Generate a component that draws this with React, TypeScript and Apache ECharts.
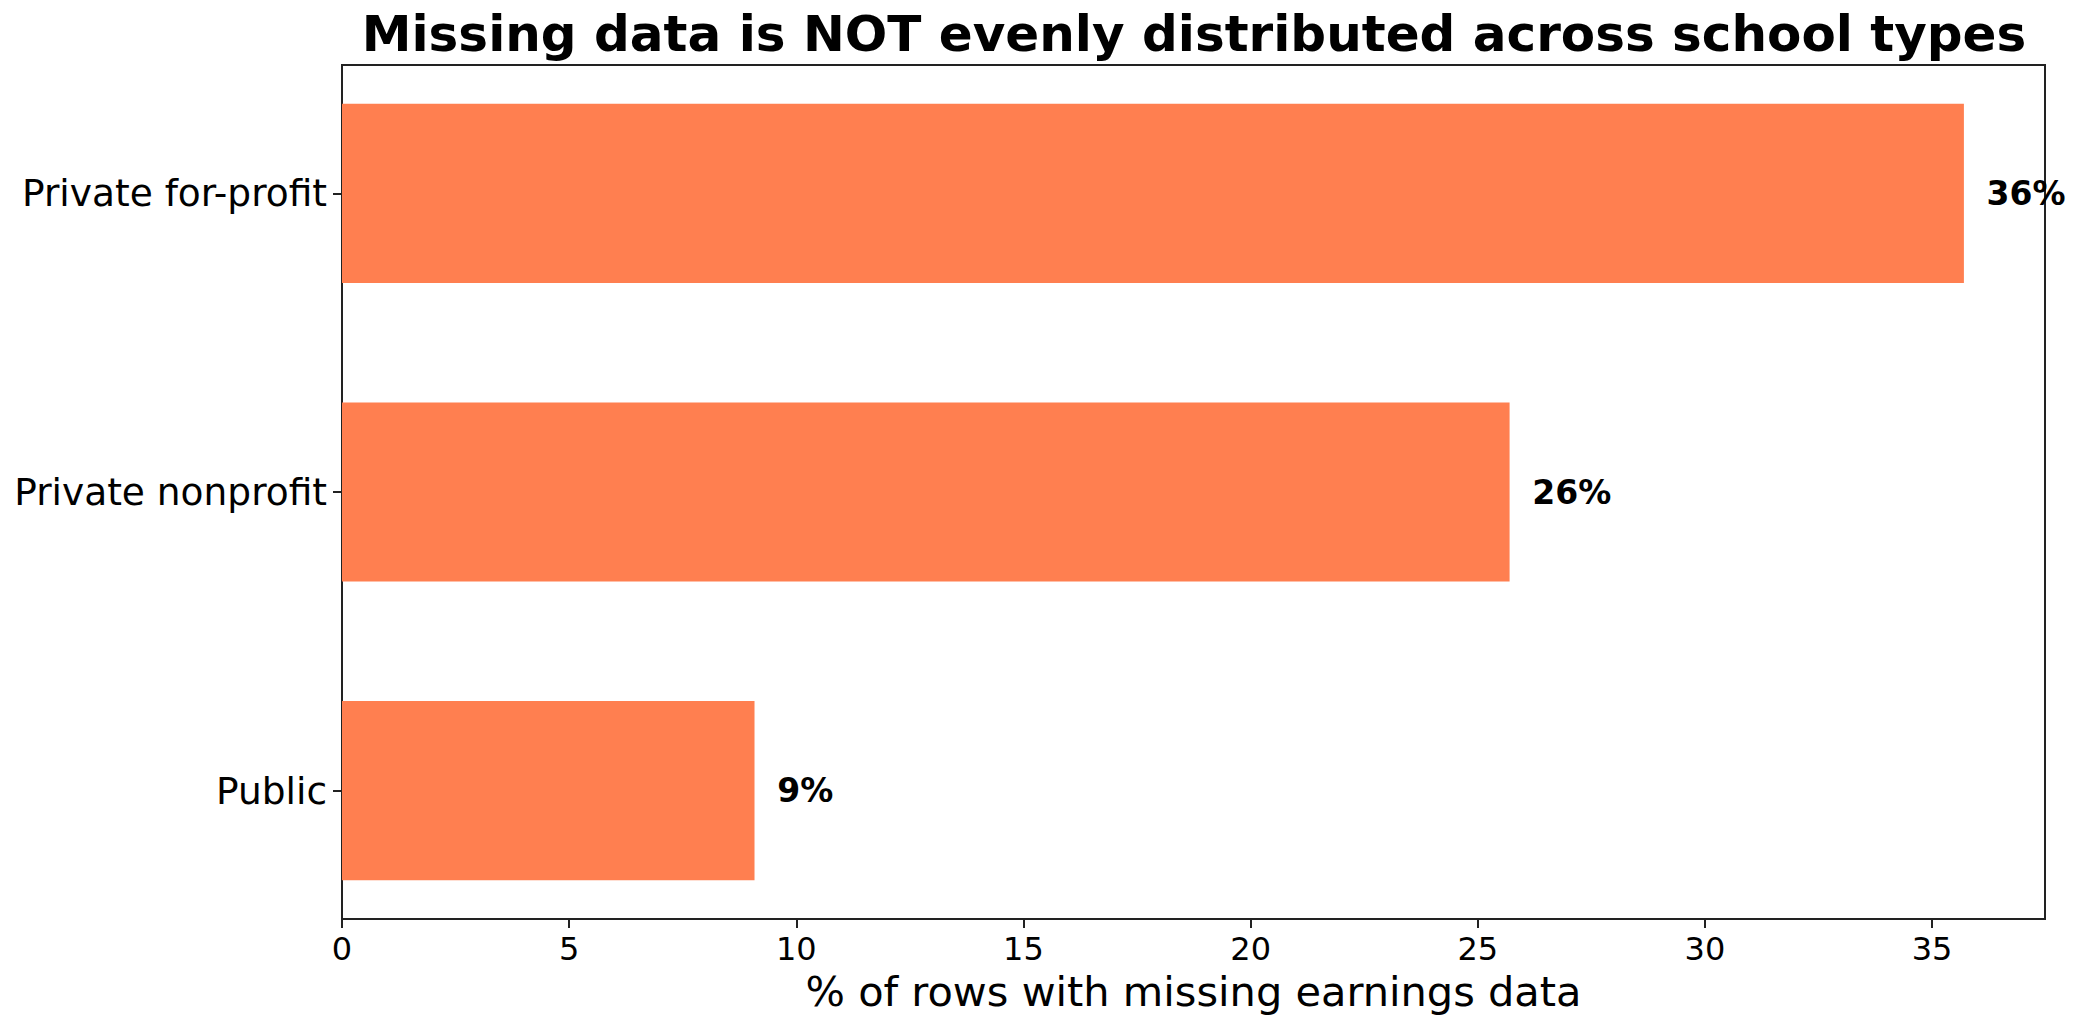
import React, { useEffect, useRef } from "react";
import * as echarts from "echarts";

const categories = ["Public", "Private nonprofit", "Private for-profit"];
const values = [9.08, 25.7, 35.7];
const labels = ["9%", "26%", "36%"];
const xTicks = [0, 5, 10, 15, 20, 25, 30, 35];
const titleText = "Missing data is NOT evenly distributed across school types";
const xAxisTitle = "% of rows with missing earnings data";

const FONT = "'DejaVu Sans', 'Liberation Sans', sans-serif";

export default function App() {
  const ref = useRef<HTMLDivElement>(null);
  useEffect(() => {
    document.body.style.margin = "0";
    const chart = echarts.init(ref.current!, null, { renderer: "svg" });
    const xMax = Math.max(...values) * 1.05;
    const option: any = {
      animation: false,
      backgroundColor: "#ffffff",
      grid: {
        left: 342,
        right: 36,
        top: 65,
        bottom: 111,
        show: true,
        borderColor: "#222222",
        borderWidth: 2,
        backgroundColor: "transparent",
      },
      graphic: [
        {
          type: "text",
          x: 1194,
          y: 34,
          style: {
            text: titleText,
            font: `bold 50px ${FONT}`,
            fill: "#000",
            textAlign: "center",
            textVerticalAlign: "middle",
          },
        },
      ],
      xAxis: {
        type: "value",
        min: 0,
        max: xMax,
        name: xAxisTitle,
        nameLocation: "middle",
        nameGap: 51,
        nameTextStyle: { fontFamily: FONT, fontSize: 41.5, color: "#000" },
        axisLine: { show: true, onZero: false, lineStyle: { color: "#222", width: 2 } },
        axisTick: { show: true, length: 9, lineStyle: { color: "#222", width: 2 }, customValues: xTicks },
        axisLabel: {
          fontFamily: FONT,
          fontSize: 32,
          color: "#000",
          margin: 14,
          customValues: xTicks,
        },
        splitLine: { show: false },
      },
      yAxis: {
        type: "value",
        min: -0.43,
        max: 2.43,
        axisLine: { show: true, onZero: false, lineStyle: { color: "#222", width: 2 } },
        axisTick: { show: true, length: 9, lineStyle: { color: "#222", width: 2 }, customValues: [0, 1, 2] },
        axisLabel: {
          fontFamily: FONT,
          fontSize: 37.5,
          color: "#000",
          margin: 15,
          customValues: [0, 1, 2],
          formatter: (v: number) => categories[Math.round(v)] ?? "",
        },
        splitLine: { show: false },
      },
      series: [
        {
          type: "custom",
          data: values.map((v, i) => [v, i]),
          renderItem: (params: any, api: any) => {
            const v = api.value(0);
            const i = api.value(1);
            const start = api.coord([0, i + 0.3]);
            const end = api.coord([v, i - 0.3]);
            const lab = api.coord([v + 0.5, i]);
            return {
              type: "group",
              children: [
                {
                  type: "rect",
                  shape: {
                    x: start[0],
                    y: start[1],
                    width: end[0] - start[0],
                    height: end[1] - start[1],
                  },
                  style: { fill: "#FF7F50" },
                },
                {
                  type: "text",
                  x: lab[0],
                  y: lab[1],
                  style: {
                    text: labels[params.dataIndex],
                    font: `bold 33px ${FONT}`,
                    fill: "#000",
                    textAlign: "left",
                    textVerticalAlign: "middle",
                  },
                },
              ],
            };
          },
        },
      ],
    };
    chart.setOption(option);
    return () => chart.dispose();
  }, []);
  return <div ref={ref} style={{ width: 2081, height: 1030 }} />;
}
